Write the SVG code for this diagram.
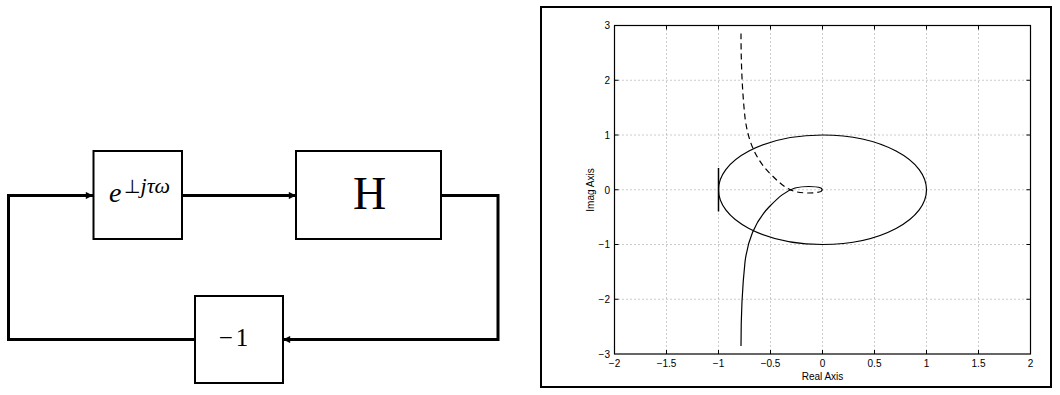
<svg xmlns="http://www.w3.org/2000/svg" width="1060" height="395" viewBox="0 0 1060 395">
<defs>
<style>
.blk{fill:#fff;stroke:#000;stroke-width:2}
.wire{fill:none;stroke:#000;stroke-width:3}
.math{font-family:"Liberation Serif","DejaVu Serif",serif;fill:#000}
.grid{stroke:#999;stroke-width:1;stroke-dasharray:1 3;fill:none}
.tick{stroke:#000;stroke-width:1;fill:none}
.lbl{font-family:"Liberation Sans",Arial,sans-serif;font-size:10px;fill:#000}
.curve{fill:none;stroke:#000;stroke-width:1.2}
</style>
<marker id="arr" viewBox="0 0 10 10" refX="10" refY="5" markerWidth="3" markerHeight="2.4" orient="auto" markerUnits="strokeWidth">
<path d="M0,0 L10,5 L0,10 Z" fill="#000"/>
</marker>
</defs>
<rect width="1060" height="395" fill="#fff"/>

<g id="connectors">
<polyline class="wire" points="195,339.5 8.5,339.5 8.5,195.5 93,195.5" marker-end="url(#arr)"/>
<line class="wire" x1="182" y1="195.5" x2="296" y2="195.5" marker-end="url(#arr)"/>
<polyline class="wire" points="441,195.5 498,195.5 498,339.5 283,339.5" marker-end="url(#arr)"/>
</g>

<g id="delay">
<rect class="blk" x="93.5" y="151" width="88.5" height="88"/>
<text class="math" x="109" y="202" font-size="28" font-style="italic">e</text>
<text class="math" x="124" y="193" font-size="22"><tspan font-family="DejaVu Sans,sans-serif" font-size="19">⊥</tspan><tspan font-style="italic">jτω</tspan></text>
</g>

<g id="H">
<rect class="blk" x="296" y="151" width="145" height="88"/>
<text class="math" x="369.5" y="209" font-size="46" text-anchor="middle">H</text>
</g>

<g id="neg">
<rect class="blk" x="195" y="296" width="88" height="87"/>
<text class="math" x="235" y="346" font-size="25" text-anchor="middle" letter-spacing="3">−1</text>
</g>

<g id="plot">
<rect x="541" y="7" width="510" height="380" fill="none" stroke="#000" stroke-width="2"/>
<g class="grid">
<line x1="666.5" y1="25.5" x2="666.5" y2="354"/>
<line x1="718.5" y1="25.5" x2="718.5" y2="354"/>
<line x1="770.5" y1="25.5" x2="770.5" y2="354"/>
<line x1="822.5" y1="25.5" x2="822.5" y2="354"/>
<line x1="874.5" y1="25.5" x2="874.5" y2="354"/>
<line x1="926.5" y1="25.5" x2="926.5" y2="354"/>
<line x1="978.5" y1="25.5" x2="978.5" y2="354"/>
<line x1="614.5" y1="80.25" x2="1030.5" y2="80.25"/>
<line x1="614.5" y1="135" x2="1030.5" y2="135"/>
<line x1="614.5" y1="189.75" x2="1030.5" y2="189.75"/>
<line x1="614.5" y1="244.5" x2="1030.5" y2="244.5"/>
<line x1="614.5" y1="299.25" x2="1030.5" y2="299.25"/>
</g>
<rect x="614.5" y="25.5" width="416" height="328.5" fill="none" stroke="#000" stroke-width="1.2"/>
<path class="tick" d="M666.5,354v-4M718.5,354v-4M770.5,354v-4M822.5,354v-4M874.5,354v-4M926.5,354v-4M978.5,354v-4
M666.5,25.5v4M718.5,25.5v4M770.5,25.5v4M822.5,25.5v4M874.5,25.5v4M926.5,25.5v4M978.5,25.5v4
M614.5,80.25h4M614.5,135h4M614.5,189.75h4M614.5,244.5h4M614.5,299.25h4
M1030.5,80.25h-4M1030.5,135h-4M1030.5,189.75h-4M1030.5,244.5h-4M1030.5,299.25h-4"/>
<g class="lbl" text-anchor="end">
<text x="610" y="29">3</text>
<text x="610" y="84">2</text>
<text x="610" y="139">1</text>
<text x="610" y="193.5">0</text>
<text x="610" y="248">−1</text>
<text x="610" y="303">−2</text>
<text x="610" y="357.5">−3</text>
</g>
<g class="lbl" text-anchor="middle">
<text x="614.5" y="367">−2</text>
<text x="666.5" y="367">−1.5</text>
<text x="718.5" y="367">−1</text>
<text x="770.5" y="367">−0.5</text>
<text x="822.5" y="367">0</text>
<text x="874.5" y="367">0.5</text>
<text x="926.5" y="367">1</text>
<text x="978.5" y="367">1.5</text>
<text x="1030.5" y="367">2</text>
</g>
<text class="lbl" x="822.5" y="380" text-anchor="middle" font-size="11">Real Axis</text>
<text class="lbl" transform="translate(594,190) rotate(-90)" text-anchor="middle" font-size="11">Imag Axis</text>
<ellipse class="curve" cx="822.5" cy="189.75" rx="104" ry="54.75"/>
<line x1="718.5" y1="168" x2="718.5" y2="211.5" stroke="#000" stroke-width="1.5"/>
<path class="curve" d="M741,346 C741,320 742,290 745,262 C748,238 756,220 770,206 C778,198 785,191 795,188 C803,186 815,186 821,188 L822.5,189.75"/>
<path class="curve" stroke-dasharray="6 4" d="M741,33.5 C741,59.5 742,89.5 745,117.5 C748,141.5 756,159.5 770,173.5 C778,181.5 785,188.5 795,191.5 C803,193.5 815,193.5 821,191.5 L822.5,189.75"/>
</g>
</svg>
